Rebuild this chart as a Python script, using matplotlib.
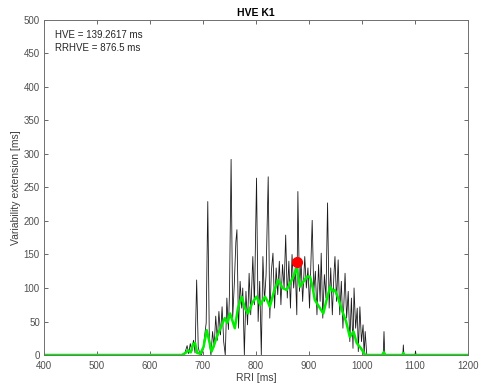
import matplotlib
matplotlib.use("Agg")
import matplotlib.pyplot as plt

# raw variability extension (black trace)
rri_raw = [400, 664, 667, 670, 673, 676, 679, 682, 685, 688, 691, 694, 697, 700,
           703, 706, 709, 712, 715, 718, 721, 724, 727, 730, 733, 736, 739, 742,
           745, 748, 750, 753, 756, 759, 762, 764, 767, 770, 773, 775, 778, 781,
           784, 787, 790, 794, 797, 801, 804, 807, 810, 813, 816, 819, 823, 826,
           829, 832, 835, 838, 841, 844, 847, 850, 853, 856, 859, 862, 865, 868,
           871, 874, 877, 879, 882, 885, 888, 892, 895, 898, 901, 906, 909, 912,
           915, 918, 921, 923, 926, 929, 932, 935, 938, 941, 944, 947, 949, 952,
           955, 958, 961, 964, 968, 971, 974, 977, 980, 983, 985, 988, 991, 993,
           996, 999, 1002, 1004, 1006, 1009, 1040, 1041.5, 1043, 1077, 1078, 1079,
           1100, 1101, 1102, 1200]
ve_raw = [0, 0, 6, 14, 2, 17, 6, 22, 3, 112, 12, 1, 0, 8,
          28, 48, 229, 18, 0, 35, 12, 58, 22, 65, 30, 72, 20, 0,
          85, 38, 95, 292, 55, 105, 169, 187, 40, 110, 70, 100, 0, 95,
          45, 122, 60, 147, 75, 264, 50, 110, 0, 147, 80, 120, 266, 55,
          125, 152, 70, 130, 90, 140, 75, 135, 100, 179, 85, 140, 70, 150,
          100, 130, 60, 244, 95, 140, 80, 147, 100, 130, 70, 201, 95, 125,
          60, 135, 80, 152, 55, 120, 85, 227, 70, 130, 60, 120, 147, 80,
          142, 60, 110, 40, 122, 55, 95, 20, 85, 10, 100, 40, 70, 5,
          72, 20, 45, 0, 35, 0, 0, 35, 0, 0, 15, 0,
          0, 6, 0, 0]

# smoothed trace (green)
rri_smooth = [400, 660, 667, 672, 677, 681, 685, 689, 695, 701, 707, 712, 716,
              721, 726, 733, 741, 746, 751, 756, 760, 766, 773, 779, 785, 793,
              801, 808, 817, 822, 826, 834, 842, 850, 858, 866, 871, 877, 883,
              890, 896, 902, 907, 911, 919, 927, 934, 940, 945, 949, 955, 962,
              970, 977, 984, 990, 998, 1006, 1038, 1041, 1044, 1076, 1078, 1080,
              1200]
ve_smooth = [0, 0, 3, 7, 4, 16, 18, 3, 2, 12, 37, 20, 5,
             15, 27, 40, 55, 48, 62, 50, 40, 70, 87, 70, 62, 78,
             87, 75, 87, 80, 72, 95, 112, 100, 97, 110, 118, 130, 102,
             110, 117, 117, 100, 82, 72, 62, 85, 102, 95, 97, 85, 67,
             50, 27, 35, 18, 10, 0, 0, 4, 0, 0, 3, 0,
             0]

hve_rri = 876.5
hve_val = 139.2617

plt.rcParams['font.family'] = ['Liberation Sans', 'DejaVu Sans']

fig = plt.figure(figsize=(4.8, 3.89), dpi=100)
ax = fig.add_axes([0.0917, 0.0874, 0.8833, 0.8612])

ax.plot(rri_raw, ve_raw, color='#1a1a1a', linewidth=0.6)
ax.plot(rri_smooth, ve_smooth, color='#00ee00', linewidth=1.8)
ax.plot(hve_rri, hve_val, 'o', color='#ff0000', markersize=7, zorder=5)

ax.set_xlim(400, 1200)
ax.set_ylim(0, 500)
ax.set_xticks(range(400, 1201, 100))
ax.set_yticks(range(0, 501, 50))

ax.set_title('HVE K1', fontsize=7.5, fontweight='bold', pad=3)
ax.set_xlabel('RRI [ms]', fontsize=7.5, color='#404040', labelpad=2)
ax.set_ylabel('Variability extension [ms]', fontsize=7.5, color='#404040', labelpad=2)

ax.text(421, 478, 'HVE = %.4f ms' % hve_val, fontsize=7, color='#262626', va='center')
ax.text(421, 458, 'RRHVE = %.1f ms' % hve_rri, fontsize=7, color='#262626', va='center')

ax.tick_params(direction='in', top=True, right=True, length=3, width=0.6,
               labelsize=7, colors='#505050')
ax.tick_params(axis='x', pad=4)
ax.tick_params(axis='y', pad=3)
for s in ax.spines.values():
    s.set_color('#707070')
    s.set_linewidth(0.7)

fig.savefig('out.png', dpi=100)
